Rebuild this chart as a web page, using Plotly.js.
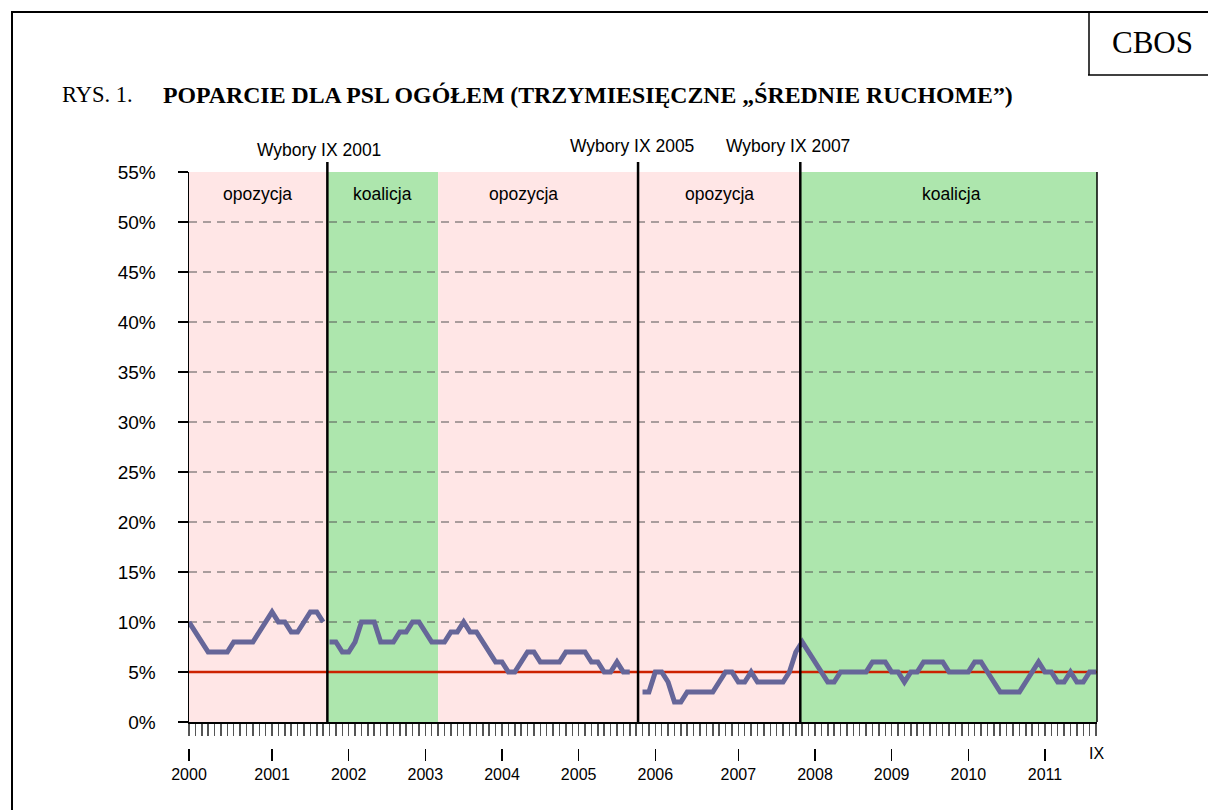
<!DOCTYPE html>
<html>
<head>
<meta charset="utf-8">
<script src="https://cdn.plot.ly/plotly-3.0.1.min.js"></script>
<style>
html,body{margin:0;padding:0;background:#fff;}
#chart{width:1208px;height:810px;}
</style>
</head>
<body>
<div id="chart"></div>
<script>
// ---- data ----
const supportPSL = [
  10,9,8,7,7,7,7,8,8,8,8,9,10,11,10,10,9,9,10,11,11,10,
  8,8,7,7,8,10,10,10,8,8,8,9,9,10,10,9,8,8,
  8,9,9,10,9,9,8,7,6,6,5,5,6,7,7,6,6,6,6,7,7,7,7,6,6,5,5,6,5,5,
  null,
  3,3,5,5,4,2,2,3,3,3,3,3,4,5,5,4,4,5,4,4,4,4,4,5,7,
  8,7,6,5,4,4,5,5,5,5,5,6,6,6,5,5,4,5,5,6,6,6,6,5,5,5,5,6,6,5,4,3,3,3,3,4,5,6,5,5,4,4,5,4,4,5,5
];
const yearTickIdx = [0,13,25,37,49,61,73,86,98,110,122,134];
const yearLabels = ['2000','2001','2002','2003','2004','2005','2006','2007','2008','2009','2010','2011'];
const lastLabel = 'IX';
const yTickVals = [0,5,10,15,20,25,30,35,40,45,50,55];
const yTickText = ['0%','5%','10%','15%','20%','25%','30%','35%','40%','45%','50%','55%'];
const gridVals = [10,15,20,25,30,35,40,45,50];
const threshold = 5;
const electionIdx = [21.66, 70.3, 95.7];
const electionLabels = ['Wybory IX 2001','Wybory IX 2005','Wybory IX 2007'];
const electionLabelIdx = [20.3, 69.4, 93.7];
const lineBreakIdx = [21.66];
const periodStart = [0, 21.66, 39, 70.3, 95.7];
const periodEnd = [21.66, 39, 70.3, 95.7, 142.15];
const periodType = ['opozycja','koalicja','opozycja','opozycja','koalicja'];
const periodLabelIdx = [10.8, 30.3, 52.4, 83, 119.3];

// ---- geometry helpers ----
const L = 189, R = 1097, T = 172, B = 748;
const W = R - L, H = B - T;
const px = x => (x - L) / W;
const py = y => (B - y) / H;

// build line with breaks
const xs = [], ys = [];
supportPSL.forEach((v, i) => {
  lineBreakIdx.forEach(b => { if (b > i - 1 && b < i) { xs.push(b); ys.push(null); } });
  xs.push(i); ys.push(v);
});

const sans = '"Liberation Sans", Arial, sans-serif';
const serif = '"Liberation Serif", "Times New Roman", serif';
const bandColor = {opozycja: '#ffe6e6', koalicja: '#ade6ad'};
const xRange = [0, 142.15];

const shapes = [];
periodStart.forEach((s, k) => {
  shapes.push({type: 'rect', layer: 'below', xref: 'x', yref: 'y', x0: s, x1: periodEnd[k], y0: 0, y1: 55,
    fillcolor: bandColor[periodType[k]], line: {width: 0}});
});
gridVals.forEach(g => {
  shapes.push({type: 'line', layer: 'below', xref: 'x', yref: 'y', x0: xRange[0], x1: xRange[1], y0: g, y1: g,
    line: {color: '#555', width: 1, dash: '8px,6px'}});
});
shapes.push({type: 'line', layer: 'below', xref: 'x', yref: 'y', x0: xRange[0], x1: xRange[1], y0: threshold, y1: threshold,
  line: {color: '#cc2200', width: 2.5}});
electionIdx.forEach(e => {
  shapes.push({type: 'line', layer: 'above', xref: 'x', yref: 'paper', x0: e, x1: e, y0: py(722), y1: py(162),
    line: {color: '#000', width: 2.5}});
});
// right border of plot
shapes.push({type: 'line', xref: 'paper', yref: 'paper', x0: 1, x1: 1, y0: py(722), y1: py(172), line: {color: '#000', width: 1.5}});
// outer frame
shapes.push({type: 'line', xref: 'paper', yref: 'paper', x0: px(11), x1: px(1210), y0: py(12), y1: py(12), line: {color: '#000', width: 2}});
shapes.push({type: 'line', xref: 'paper', yref: 'paper', x0: px(12), x1: px(12), y0: py(11), y1: py(812), line: {color: '#000', width: 2}});
// CBOS box
shapes.push({type: 'line', xref: 'paper', yref: 'paper', x0: px(1089), x1: px(1089), y0: py(12), y1: py(75), line: {color: '#000', width: 1.5}});
shapes.push({type: 'line', xref: 'paper', yref: 'paper', x0: px(1088), x1: px(1210), y0: py(75), y1: py(75), line: {color: '#000', width: 1.5}});

const annotations = [];
annotations.push({xref: 'paper', yref: 'paper', x: px(1152), y: py(42), text: 'CBOS', showarrow: false,
  font: {family: serif, size: 31, color: '#000'}, xanchor: 'center', yanchor: 'middle'});
annotations.push({xref: 'paper', yref: 'paper', x: px(60), y: py(95), text: 'RYS. 1.', showarrow: false,
  font: {family: serif, size: 22.5, color: '#000'}, xanchor: 'left', yanchor: 'middle'});
annotations.push({xref: 'paper', yref: 'paper', x: px(161), y: py(95), text: '<b>POPARCIE DLA PSL OGÓŁEM (TRZYMIESIĘCZNE „ŚREDNIE RUCHOME”)</b>', showarrow: false,
  font: {family: serif, size: 23.8, color: '#000'}, xanchor: 'left', yanchor: 'middle'});
electionLabels.forEach((t, k) => {
  annotations.push({xref: 'x', yref: 'paper', x: electionLabelIdx[k], y: py(k === 0 ? 150 : 146), text: t, showarrow: false,
    font: {family: sans, size: 17.5, color: '#000'}, xanchor: 'center', yanchor: 'middle'});
});
periodType.forEach((t, k) => {
  annotations.push({xref: 'x', yref: 'paper', x: periodLabelIdx[k], y: py(194), text: t, showarrow: false,
    font: {family: sans, size: 17.5, color: '#000'}, xanchor: 'center', yanchor: 'middle'});
});
annotations.push({xref: 'x', yref: 'paper', x: supportPSL.length - 1, y: py(753), text: lastLabel, showarrow: false,
  font: {family: sans, size: 16, color: '#000'}, xanchor: 'center', yanchor: 'middle'});

const traces = [
  {x: xs, y: ys, type: 'scatter', mode: 'lines', connectgaps: false,
   line: {color: '#666699', width: 5, shape: 'linear'}, hoverinfo: 'skip', xaxis: 'x', yaxis: 'y'},
  {x: [0], y: [null], type: 'scatter', mode: 'lines', xaxis: 'x2', yaxis: 'y', hoverinfo: 'skip', showlegend: false}
];

const layout = {
  width: 1208, height: 810,
  margin: {l: L, r: 1208 - R, t: T, b: 810 - B, pad: 0},
  paper_bgcolor: '#fff', plot_bgcolor: 'rgba(0,0,0,0)',
  showlegend: false,
  xaxis: {range: xRange, tickmode: 'linear', tick0: 0, dtick: 1, ticks: 'outside', ticklen: 12, tickwidth: 1.5,
    tickcolor: '#555', showticklabels: false, showgrid: false, zeroline: false,
    showline: true, linecolor: '#000', linewidth: 1.5, anchor: 'y', fixedrange: true},
  xaxis2: {range: xRange, overlaying: 'x', anchor: 'free', position: 0, side: 'bottom',
    tickmode: 'array', tickvals: yearTickIdx, ticktext: yearLabels, ticks: 'outside', ticklen: 12,
    tickwidth: 1.5, tickcolor: '#000', showgrid: false, zeroline: false, showline: false,
    tickfont: {family: sans, size: 16, color: '#000'}, fixedrange: true},
  yaxis: {range: [0, 55], domain: [py(722), 1], tickmode: 'array', tickvals: yTickVals, ticktext: yTickText,
    ticks: 'outside', ticklen: 10, tickwidth: 1.5, tickcolor: '#000', showgrid: false, zeroline: false,
    showline: true, linecolor: '#000', linewidth: 1.5, tickfont: {family: sans, size: 19, color: '#000'},
    ticklabelstandoff: 18, fixedrange: true},
  shapes: shapes,
  annotations: annotations
};

Plotly.newPlot('chart', traces, layout, {displayModeBar: false, staticPlot: true});
</script>
</body>
</html>
